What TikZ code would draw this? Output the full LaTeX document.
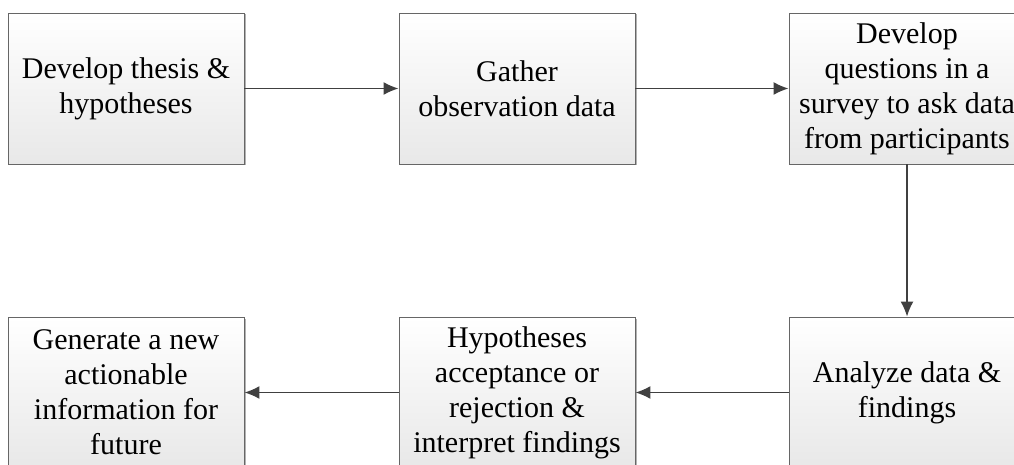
\documentclass[tikz,border=0pt]{standalone}
\usepackage{fontspec}
\setmainfont{Liberation Serif}
\usepackage{tikz}
\usetikzlibrary{arrows.meta,shadows}

\begin{document}
\begin{tikzpicture}[x=1pt,y=-1pt,
  stagebox/.style={draw=black!60,line width=0.9pt,top color=white,bottom color=black!9,
    minimum width=236pt,minimum height=151pt,inner sep=0pt,align=center,
    font=\fontsize{30}{35}\selectfont,
    drop shadow={shadow xshift=1.5pt,shadow yshift=-1.5pt,fill=black!30,opacity=1}},
  flow/.style={draw=black!75,line width=1.5pt,-{Latex[length=15pt,width=13pt]}}]
     \useasboundingbox (0,0) rectangle (1014,465);

     \path (126,88.5) node[stagebox] (thesis) {Develop thesis \&\\hypotheses};
     \path (517,88.5) node[stagebox] (gather) {Gather\\observation data};
     \path (907,88.5) node[stagebox] (survey) {Develop\\questions in a\\survey to ask data\\from participants};

     \path (907,392.5) node[stagebox] (analyze) {Analyze data \&\\findings};
     \path (517,392.5) node[stagebox] (accept) {Hypotheses\\acceptance or\\rejection \&\\interpret findings};
     \path (126,392.5) node[stagebox] (future) {Generate a new\\actionable\\information for\\future};

     \draw[flow] (thesis) -- (gather);
     \draw[flow] (gather) -- (survey);
     \draw[flow] (survey) -- (analyze);
     \draw[flow] (analyze) -- (accept);
     \draw[flow] (accept) -- (future);

   \end{tikzpicture}
\end{document}
